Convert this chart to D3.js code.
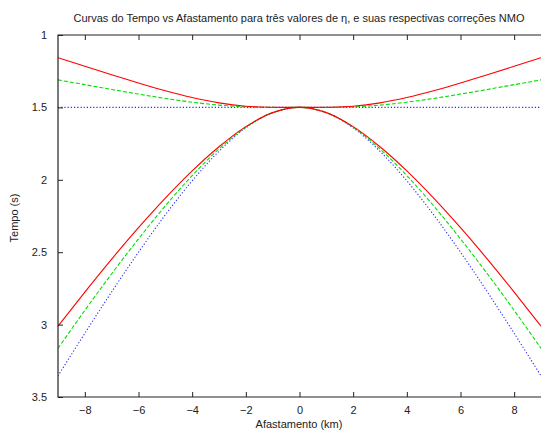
<!DOCTYPE html>
<html><head><meta charset="utf-8">
<script src="https://cdn.jsdelivr.net/npm/d3@7"></script>
<style>body{margin:0;background:#fff}text{font-family:"Liberation Sans",Arial,sans-serif;fill:#222}</style>
</head><body><svg id="c" width="541" height="432"></svg>
<script>
const offsets = [-9,-8,-7,-6,-5,-4,-3,-2,-1,0,1,2,3,4,5,6,7,8,9];
const blueT = [3.354,3.060,2.774,2.500,2.242,2.007,1.803,1.641,1.537,1.500,1.537,1.641,1.803,2.007,2.242,2.500,2.774,3.060,3.354];
const greenT = [3.164,2.902,2.649,2.408,2.180,1.971,1.787,1.637,1.536,1.500,1.536,1.637,1.787,1.971,2.180,2.408,2.649,2.902,3.164];
const redT = [3.011,2.776,2.548,2.331,2.127,1.939,1.772,1.633,1.536,1.500,1.536,1.633,1.772,1.939,2.127,2.331,2.548,2.776,3.011];
const blueNMO = [1.500,1.500,1.500,1.500,1.500,1.500,1.500,1.500,1.500,1.500,1.500,1.500,1.500,1.500,1.500,1.500,1.500,1.500,1.500];
const greenNMO = [1.310,1.343,1.376,1.408,1.438,1.464,1.484,1.496,1.500,1.500,1.500,1.496,1.484,1.464,1.438,1.408,1.376,1.343,1.310];
const redNMO = [1.157,1.216,1.274,1.331,1.385,1.432,1.469,1.492,1.499,1.500,1.499,1.492,1.469,1.432,1.385,1.331,1.274,1.216,1.157];
const xTicks = [-8,-6,-4,-2,0,2,4,6,8];
const yTicks = [1,1.5,2,2.5,3,3.5];
const title = "Curvas do Tempo vs Afastamento para três valores de η, e suas respectivas correções NMO";

const svg = d3.select("#c");
const L=58, R=541, T=35, B=397;
const x = d3.scaleLinear().domain([-9,9]).range([L,R]);
const y = d3.scaleLinear().domain([1,3.5]).range([T,B]);

svg.append("clipPath").attr("id","pc").append("rect")
  .attr("x",L).attr("y",T).attr("width",R-L).attr("height",B-T);

const series = [
  {v:blueNMO,c:"#2a2aff",d:"1.2,2"},
  {v:blueT,c:"#2a2aff",d:"1.2,2"},
  {v:greenNMO,c:"#00e000",d:"4,2"},
  {v:greenT,c:"#00e000",d:"4,2"},
  {v:redNMO,c:"#ff0000",d:null},
  {v:redT,c:"#ff0000",d:null}
];
const line = d3.line().x((d,i)=>x(offsets[i])).y(d=>y(d)).curve(d3.curveCatmullRom.alpha(0.5));
const g = svg.append("g").attr("clip-path","url(#pc)");
series.forEach(s=>{
  g.append("path").attr("d",line(s.v)).attr("fill","none")
   .attr("stroke",s.c).attr("stroke-width",1.1)
   .attr("stroke-linecap","butt")
   .attr("stroke-dasharray",s.d);
});

// frame
svg.append("path").attr("d",`M${R},${T}H${L}V${B}H${R}`).attr("fill","none").attr("stroke","#222").attr("stroke-width",1.2);

// axes
const xb = d3.axisBottom(x).tickValues(xTicks).tickSize(-5).tickPadding(9)
  .tickFormat(d=>d<0?"\u2212"+Math.abs(d):d);
const xa = svg.append("g").attr("transform",`translate(0,${B})`).call(xb);
xa.select(".domain").remove();
xa.selectAll("text").attr("font-size",11).attr("fill","#222");
xa.selectAll("line").attr("stroke","#222");
const xt = d3.axisTop(x).tickValues(xTicks).tickSize(-5).tickFormat("");
const xta = svg.append("g").attr("transform",`translate(0,${T})`).call(xt);
xta.select(".domain").remove();
xta.selectAll("line").attr("stroke","#222");

const yl = d3.axisLeft(y).tickValues(yTicks).tickSize(-5).tickPadding(11).tickFormat(d=>d);
const ya = svg.append("g").attr("transform",`translate(${L},0)`).call(yl);
ya.select(".domain").remove();
ya.selectAll("text").attr("font-size",11).attr("fill","#222");
ya.selectAll("line").attr("stroke","#222");

svg.append("text").attr("x",299).attr("y",22).attr("text-anchor","middle").attr("font-size",11).text(title);
svg.append("text").attr("x",299).attr("y",428).attr("text-anchor","middle").attr("font-size",11).text("Afastamento (km)");
svg.append("text").attr("transform","translate(18,218) rotate(-90)").attr("text-anchor","middle").attr("font-size",11).text("Tempo (s)");
</script></body></html>
